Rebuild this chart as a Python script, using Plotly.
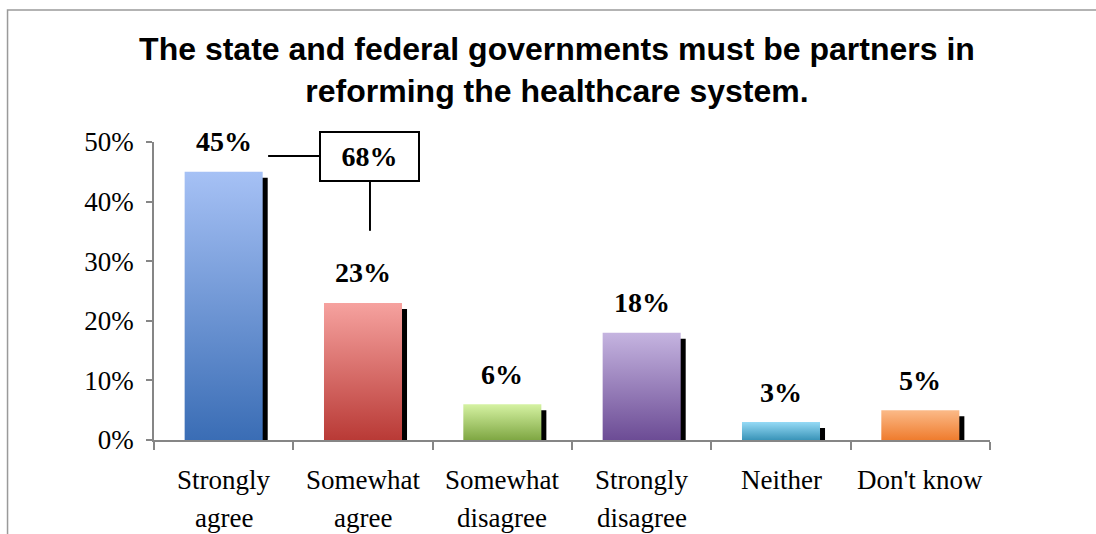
import plotly.graph_objects as go

# Survey responses
categories = ["Strongly agree", "Somewhat agree", "Somewhat disagree",
              "Strongly disagree", "Neither", "Don't know"]
tick_labels = [["Strongly", "agree"], ["Somewhat", "agree"], ["Somewhat", "disagree"],
               ["Strongly", "disagree"], ["Neither"], ["Don't know"]]
values = [0.45, 0.23, 0.06, 0.18, 0.03, 0.05]
value_labels = ["45%", "23%", "6%", "18%", "3%", "5%"]
# gradient colours per bar: (bottom, top)
bar_colors = [
    ("#3a6db5", "#a6c1f5"),
    ("#b93a36", "#f6a29f"),
    ("#7fa743", "#d5f2a2"),
    ("#6c4c95", "#c5b4e0"),
    ("#3a94b8", "#95daf6"),
    ("#ef7c2e", "#fbba88"),
]
combined_label = "68%"

title_text = ("The state and federal governments must be partners in<br>"
              "reforming the healthcare system.")

BAR_W = 0.56
SHADOW_DX = 0.036
SHADOW_DY = 0.010
SERIF = "Liberation Serif, Times New Roman, serif"

fig = go.Figure()

# drop shadows behind each bar
fig.add_trace(go.Bar(
    x=list(range(len(values))),
    y=[v - SHADOW_DY for v in values],
    width=BAR_W,
    offset=-BAR_W / 2 + SHADOW_DX,
    marker=dict(color="#000000", line=dict(width=0)),
    hoverinfo="skip",
    showlegend=False,
))

# gradient-filled bars
for i, (v, (c_bot, c_top)) in enumerate(zip(values, bar_colors)):
    x0, x1 = i - BAR_W / 2, i + BAR_W / 2
    fig.add_trace(go.Scatter(
        x=[x0, x0, x1, x1, x0],
        y=[0, v, v, 0, 0],
        mode="lines",
        fill="toself",
        fillgradient=dict(type="vertical", colorscale=[[0, c_bot], [1, c_top]]),
        line=dict(width=0, color=c_bot),
        hoverinfo="skip",
        showlegend=False,
    ))

# value labels above bars
for i, (v, lab) in enumerate(zip(values, value_labels)):
    fig.add_annotation(x=i, y=v, text=f"<b>{lab}</b>", showarrow=False,
                       yanchor="middle", yshift=30,
                       font=dict(family=SERIF, size=28, color="#000000"))

# category labels under the axis, one line at a time
for i, lines in enumerate(tick_labels):
    for k, line in enumerate(lines):
        fig.add_annotation(x=i, y=0, text=line, showarrow=False,
                           yanchor="middle", yshift=-(40 + 38 * k),
                           font=dict(family=SERIF, size=27, color="#000000"))

# callout for the combined agreement share
box_x, box_y = 1.05, 0.4765
fig.add_annotation(x=box_x, y=box_y, text=f"<b>{combined_label}</b>", showarrow=False,
                   width=95, height=45, borderpad=1, borderwidth=2,
                   bordercolor="#000000", bgcolor="#ffffff",
                   font=dict(family=SERIF, size=28, color="#000000"))
fig.add_shape(type="line", xref="x", yref="y",
              x0=BAR_W / 2 + SHADOW_DX + 0.003, x1=box_x - 0.365, y0=box_y, y1=box_y,
              line=dict(color="#000000", width=2))
fig.add_shape(type="line", xref="x", yref="y",
              x0=box_x, x1=box_x, y0=box_y - 0.043, y1=0.351,
              line=dict(color="#000000", width=2))

# outer chart border
fig.add_shape(type="rect", xref="paper", yref="paper",
              x0=-0.1752, x1=1.14, y0=-0.34, y1=1.443,
              line=dict(color="#9a9a9a", width=1.5), fillcolor="rgba(0,0,0,0)",
              layer="below")

fig.update_layout(
    width=1096, height=534,
    margin=dict(l=154, r=106, t=142, b=94),
    paper_bgcolor="#ffffff", plot_bgcolor="#ffffff",
    title=dict(text=f"<b>{title_text}</b>", x=557 / 1096, xanchor="center",
               y=1 - 60 / 534, yanchor="top",
               font=dict(family="Liberation Sans, Arial, sans-serif", size=32,
                         color="#000000")),
    barmode="overlay",
    showlegend=False,
)

fig.update_xaxes(
    range=[-0.5, len(values) - 0.5],
    tickmode="array", tickvals=list(range(len(values))),
    ticks="", showticklabels=False, showgrid=False, zeroline=False,
    showline=True, linecolor="#868686", linewidth=1.5,
    minor=dict(tick0=-0.5, dtick=1, ticks="outside", ticklen=8,
               tickcolor="#868686", tickwidth=1.5, showgrid=False),
    fixedrange=True,
)
fig.update_yaxes(
    range=[0, 0.5], tickvals=[0, 0.1, 0.2, 0.3, 0.4, 0.5], tickformat=".0%",
    ticks="outside", ticklen=6, tickcolor="#868686", tickwidth=1.5,
    showgrid=False, zeroline=False,
    showline=True, linecolor="#868686", linewidth=1.5,
    ticklabelstandoff=7,
    tickfont=dict(family=SERIF, size=27, color="#000000"),
    fixedrange=True,
)

fig.write_html("out.html")
